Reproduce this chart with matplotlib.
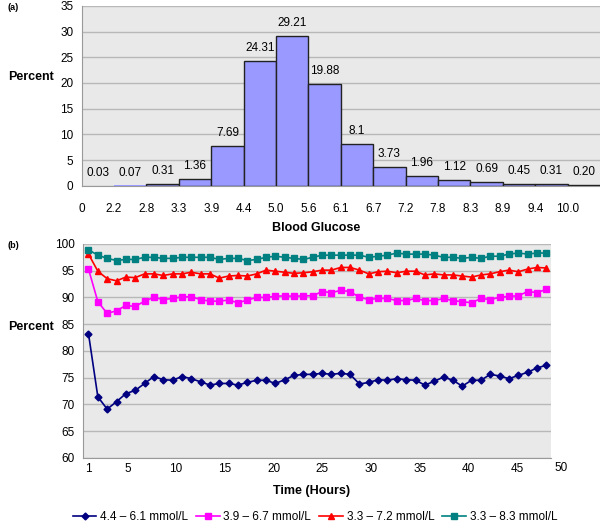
import numpy as np
import matplotlib.pyplot as plt
from matplotlib.transforms import blended_transform_factory

plt.rcParams['font.family'] = ['Liberation Sans', 'DejaVu Sans']

# (a) histogram of blood glucose
bin_labels = ['0', '2.2', '2.8', '3.3', '3.9', '4.4', '5.0', '5.6', '6.1', '6.7',
              '7.2', '7.8', '8.3', '8.9', '9.4', '10.0']
percent = [0.03, 0.07, 0.31, 1.36, 7.69, 24.31, 29.21, 19.88, 8.1, 3.73,
           1.96, 1.12, 0.69, 0.45, 0.31, 0.20]
percent_text = ['0.03', '0.07', '0.31', '1.36', '7.69', '24.31', '29.21', '19.88', '8.1',
                '3.73', '1.96', '1.12', '0.69', '0.45', '0.31', '0.20']

# (b) percent of time in range, 50 samples over 48 hours
hours = np.linspace(1, 48, 50)
range_44_61 = [83.2, 71.4, 69.1, 70.5, 72.0, 72.6, 73.9, 75.2, 74.6, 74.5,
               75.2, 74.8, 74.2, 73.6, 73.9, 73.9, 73.6, 74.1, 74.5, 74.5,
               73.9, 74.6, 75.4, 75.6, 75.6, 75.8, 75.6, 75.8, 75.6, 73.8,
               74.1, 74.6, 74.5, 74.8, 74.6, 74.5, 73.6, 74.3, 75.1, 74.5,
               73.4, 74.5, 74.5, 75.6, 75.3, 74.8, 75.4, 76.0, 76.8, 77.3]
range_39_67 = [95.3, 89.2, 87.0, 87.5, 88.5, 88.3, 89.3, 90.0, 89.6, 89.8,
               90.1, 90.1, 89.6, 89.3, 89.3, 89.5, 89.0, 89.5, 90.0, 90.0,
               90.2, 90.3, 90.2, 90.3, 90.3, 91.1, 90.9, 91.3, 91.1, 90.0,
               89.6, 89.8, 89.8, 89.4, 89.4, 89.8, 89.4, 89.4, 89.8, 89.4,
               89.2, 89.0, 89.8, 89.6, 90.0, 90.2, 90.3, 91.1, 90.9, 91.5]
range_33_72 = [98.1, 94.9, 93.5, 93.1, 93.8, 93.7, 94.4, 94.4, 94.1, 94.4,
               94.4, 94.7, 94.4, 94.4, 93.6, 94.0, 94.1, 94.0, 94.4, 95.1,
               94.9, 94.7, 94.5, 94.6, 94.8, 95.1, 95.1, 95.6, 95.6, 95.1,
               94.4, 94.8, 94.9, 94.6, 94.9, 94.9, 94.2, 94.4, 94.2, 94.2,
               94.0, 93.8, 94.2, 94.4, 94.8, 95.1, 94.8, 95.3, 95.6, 95.5]
range_33_83 = [98.9, 97.9, 97.3, 96.9, 97.1, 97.1, 97.5, 97.5, 97.3, 97.3,
               97.5, 97.5, 97.5, 97.5, 97.1, 97.3, 97.3, 96.9, 97.1, 97.5,
               97.7, 97.5, 97.3, 97.1, 97.5, 97.9, 97.9, 97.9, 97.9, 97.9,
               97.5, 97.7, 97.9, 98.3, 98.1, 98.1, 98.1, 97.9, 97.5, 97.5,
               97.3, 97.5, 97.3, 97.7, 97.7, 98.1, 98.3, 98.1, 98.3, 98.3]
series_names = ['4.4 \u2013 6.1 mmol/L', '3.9 \u2013 6.7 mmol/L',
                '3.3 \u2013 7.2 mmol/L', '3.3 \u2013 8.3 mmol/L']

bg = '#e9e9e9'
grid_c = '#b8b8b8'
fs = 8.5

fig = plt.figure(figsize=(6, 5.28), dpi=100)

# ---- panel (a)
ax1 = fig.add_axes([0.136, 0.648, 0.864, 0.341])
ax1.set_facecolor(bg)
edges = np.arange(len(percent))
# bars thinner than a pixel get no outline, as in the source chart
edge_cols = ['#222222' if v > 0.1 else 'none' for v in percent]
ax1.bar(edges, percent, width=1.0, align='edge', color='#9999ff',
        edgecolor=edge_cols, linewidth=1.0, zorder=3)
for x, v, t in zip(edges, percent, percent_text):
    ax1.annotate(t, (x + 0.5, v), xytext=(0, 5), textcoords='offset points',
                 ha='center', va='bottom', fontsize=fs)
ax1.set_xlim(0, len(percent))
ax1.set_ylim(0, 35)
ax1.set_yticks(np.arange(0, 36, 5))
ax1.set_xticks(edges)
ax1.set_xticklabels(bin_labels)
ax1.yaxis.grid(True, color=grid_c, linewidth=1.0, zorder=0)
ax1.set_axisbelow(True)
ax1.tick_params(length=0, labelsize=fs, pad=6)
ax1.tick_params(axis='x', pad=12)
for s in ['top', 'right']:
    ax1.spines[s].set_visible(False)
for s in ['left', 'bottom']:
    ax1.spines[s].set_color('#999999')

# ---- panel (b)
ax2 = fig.add_axes([0.138, 0.133, 0.780, 0.405])
ax2.set_facecolor(bg)
styles = [('#000080', 'D', 3.5), ('#ff00ff', 's', 4), ('#ff0000', '^', 5), ('#008080', 's', 5)]
for ys, name, (c, m, ms) in zip([range_44_61, range_39_67, range_33_72, range_33_83],
                                series_names, styles):
    ax2.plot(hours, ys, color=c, marker=m, markersize=ms, linewidth=1.2,
             label=name, zorder=3)
ax2.set_xlim(0.415, 48.46)
ax2.set_ylim(60, 100)
ax2.set_yticks(np.arange(60, 101, 5))
ax2.set_xticks([1, 5, 10, 15, 20, 25, 30, 35, 40, 45])
ax2.text(49.5, -0.048, '50', fontsize=fs, ha='center', va='center',
         transform=blended_transform_factory(ax2.transData, ax2.transAxes))
ax2.yaxis.grid(True, color=grid_c, linewidth=1.0, zorder=0)
ax2.set_axisbelow(True)
ax2.tick_params(length=0, labelsize=fs, pad=6)
ax2.tick_params(axis='x', pad=4)
for s in ['top', 'right']:
    ax2.spines[s].set_visible(False)
for s in ['left', 'bottom']:
    ax2.spines[s].set_color('#999999')

# labels
fig.text(8 / 600, 1 - 8 / 528, '(a)', fontsize=6.5, fontweight='bold', va='center')
fig.text(8 / 600, 1 - 245 / 528, '(b)', fontsize=6.5, fontweight='bold', va='center')
fig.text(8 / 600, 1 - 77 / 528, 'Percent', fontsize=9, fontweight='bold', va='center')
fig.text(8 / 600, 1 - 327 / 528, 'Percent', fontsize=9, fontweight='bold', va='center')
fig.text(316 / 600, 1 - 228 / 528, 'Blood Glucose', fontsize=9, fontweight='bold',
         ha='center', va='center')
fig.text(312 / 600, 1 - 491 / 528, 'Time (Hours)', fontsize=9, fontweight='bold',
         ha='center', va='center')

fig.legend(loc='center', bbox_to_anchor=(315 / 600, 1 - 517 / 528), ncol=4,
           frameon=False, fontsize=fs, handlelength=2.0, columnspacing=0.7,
           handletextpad=0.3)

fig.savefig('out.png', dpi=100)
